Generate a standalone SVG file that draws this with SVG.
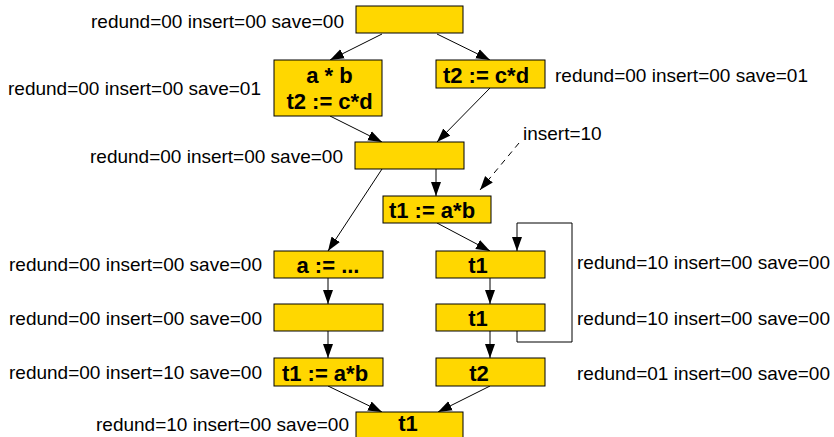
<svg xmlns="http://www.w3.org/2000/svg" width="834" height="437" viewBox="0 0 834 437">
<defs>
<marker id="ah" markerUnits="userSpaceOnUse" markerWidth="15" markerHeight="11" refX="14" refY="5.5" orient="auto">
<path d="M0,0.5 L14,5.5 L0,10.5 Z" fill="#000"/>
</marker>
<style>
.box{fill:#FFD700;stroke:#000;stroke-width:1}
.lbl{font-family:"Liberation Sans",Arial,sans-serif;font-size:19px;fill:#000}
.code{font-family:"Liberation Sans",Arial,sans-serif;font-size:22px;font-weight:bold;fill:#000;text-anchor:middle}
.e{fill:none;stroke:#000;stroke-width:1;marker-end:url(#ah)}
</style>
</defs>
<rect width="834" height="437" fill="#fff"/>
<g id="connectors">
<line class="e" x1="382" y1="34" x2="330" y2="60"/>
<line class="e" x1="437" y1="34" x2="490" y2="60"/>
<line class="e" x1="330" y1="116" x2="382" y2="142"/>
<line class="e" x1="490" y1="88" x2="437" y2="142"/>
<line class="e" x1="436" y1="169" x2="436" y2="196"/>
<line class="e" x1="382" y1="169" x2="328" y2="251"/>
<line class="e" x1="437" y1="223" x2="490" y2="251"/>
<line class="e" x1="328" y1="278" x2="328" y2="304"/>
<line class="e" x1="490" y1="278" x2="490" y2="304"/>
<line class="e" x1="328" y1="331" x2="328" y2="358"/>
<line class="e" x1="490" y1="331" x2="490" y2="358"/>
<polyline class="e" points="517,331 517,342 572,342 572,223 517,223 517,251"/>
<line class="e" x1="328" y1="386" x2="382" y2="412"/>
<line class="e" x1="490" y1="386" x2="438" y2="412"/>
<line class="e" x1="519" y1="143" x2="480" y2="190" stroke-dasharray="6,5"/>
</g>
<g id="n_top">
<rect class="box" x="356" y="6" width="107" height="27"/>
<text class="lbl" x="344" y="28" text-anchor="end">redund=00 insert=00 save=00</text>
</g>
<g id="n_left1">
<rect class="box" x="274" y="60" width="108" height="56"/>
<text class="code" x="329.5" y="83">a * b</text>
<text class="code" x="329.5" y="109">t2 := c*d</text>
<text class="lbl" x="261" y="95" text-anchor="end">redund=00 insert=00 save=01</text>
</g>
<g id="n_right1">
<rect class="box" x="436" y="60" width="109" height="28"/>
<text class="code" x="486" y="83">t2 := c*d</text>
<text class="lbl" x="555" y="82">redund=00 insert=00 save=01</text>
</g>
<g id="n_mid">
<rect class="box" x="355" y="142" width="109" height="27"/>
<text class="lbl" x="343" y="163" text-anchor="end">redund=00 insert=00 save=00</text>
</g>
<g id="insert_label">
<text class="lbl" x="523" y="140">insert=10</text>
</g>
<g id="n_t1ab">
<rect class="box" x="383" y="196" width="108" height="27"/>
<text class="code" x="432" y="218">t1 := a*b</text>
</g>
<g id="n_assign">
<rect class="box" x="274" y="251" width="109" height="27"/>
<text class="code" x="328" y="273">a := ...</text>
<text class="lbl" x="262" y="271" text-anchor="end">redund=00 insert=00 save=00</text>
</g>
<g id="n_empty">
<rect class="box" x="274" y="304" width="109" height="27"/>
<text class="lbl" x="262" y="325" text-anchor="end">redund=00 insert=00 save=00</text>
</g>
<g id="n_t1a">
<rect class="box" x="436" y="251" width="109" height="27"/>
<text class="code" x="478" y="273">t1</text>
<text class="lbl" x="577" y="269">redund=10 insert=00 save=00</text>
</g>
<g id="n_t1b">
<rect class="box" x="436" y="304" width="109" height="27"/>
<text class="code" x="478" y="326">t1</text>
<text class="lbl" x="577" y="325">redund=10 insert=00 save=00</text>
</g>
<g id="n_t1ab2">
<rect class="box" x="274" y="358" width="109" height="28"/>
<text class="code" x="325" y="381">t1 := a*b</text>
<text class="lbl" x="262" y="379" text-anchor="end">redund=00 insert=10 save=00</text>
</g>
<g id="n_t2">
<rect class="box" x="436" y="358" width="109" height="28"/>
<text class="code" x="479" y="381">t2</text>
<text class="lbl" x="577" y="380">redund=01 insert=00 save=00</text>
</g>
<g id="n_bottom">
<rect class="box" x="356" y="412" width="107" height="28"/>
<text class="code" x="408" y="431">t1</text>
<text class="lbl" x="349" y="431" text-anchor="end">redund=10 insert=00 save=00</text>
</g>
</svg>
